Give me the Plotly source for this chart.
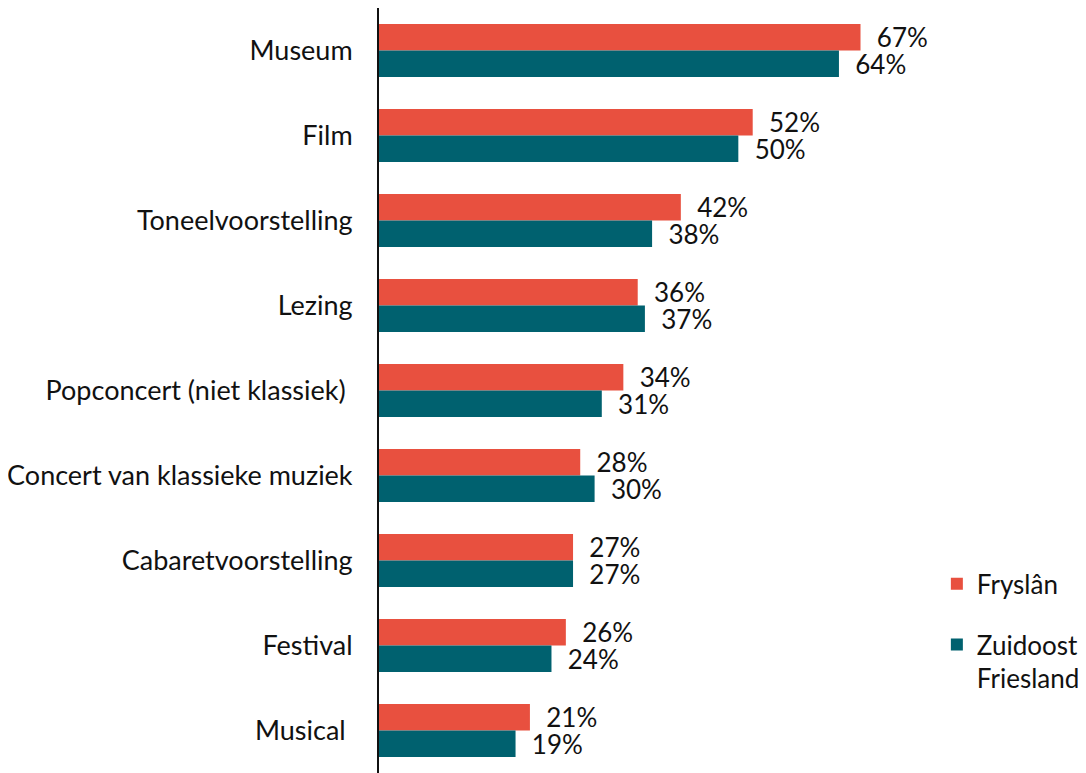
import plotly.graph_objects as go

categories = ["Museum", "Film", "Toneelvoorstelling", "Lezing",
              "Popconcert (niet klassiek)\u00a0", "Concert van klassieke muziek",
              "Cabaretvoorstelling", "Festival", "Musical\u00a0"]
fryslan = [67, 52, 42, 36, 34, 28, 27, 26, 21]
zuidoost = [64, 50, 38, 37, 31, 30, 27, 24, 19]

red = "#E8503F"
teal = "#00616F"
pad = "\u00a0\u00a0"

fig = go.Figure()
fig.add_trace(go.Bar(
    y=categories, x=fryslan, orientation="h", name="Fryslân",
    marker_color=red, marker_line_width=0, legendgroup="a",
    text=[f"{pad}{v}%" for v in fryslan], textposition="outside",
    textfont=dict(size=26, color="#111"), cliponaxis=False,
    constraintext="none"))
fig.add_trace(go.Bar(
    y=categories, x=zuidoost, orientation="h", name="Zuidoost<br>Friesland",
    marker_color=teal, marker_line_width=0, legendgroup="b",
    text=[f"{pad}{v}%" for v in zuidoost], textposition="outside",
    textfont=dict(size=26, color="#111"), cliponaxis=False,
    constraintext="none"))

# page body has an 8px margin, so the figure is 8px smaller and shifted
fig.update_layout(
    width=1078, height=765,
    margin=dict(l=371, r=168, t=0, b=0, autoexpand=False),
    barmode="group", bargap=0.376, bargroupgap=0,
    plot_bgcolor="white", paper_bgcolor="white",
    font=dict(family="Lato", size=26, color="#111"),
    legend=dict(x=1.035, y=0.278, xanchor="left", yanchor="top",
                tracegroupgap=24, font=dict(size=26), itemwidth=30,
                valign="top"),
    xaxis=dict(range=[0, 75], visible=False, showgrid=False),
    yaxis=dict(autorange="reversed", showline=True, linecolor="#111",
               linewidth=2, ticks="", showgrid=False, ticklabelstandoff=19,
               automargin=False, tickfont=dict(size=27)),
)

fig.write_html("out.html")
